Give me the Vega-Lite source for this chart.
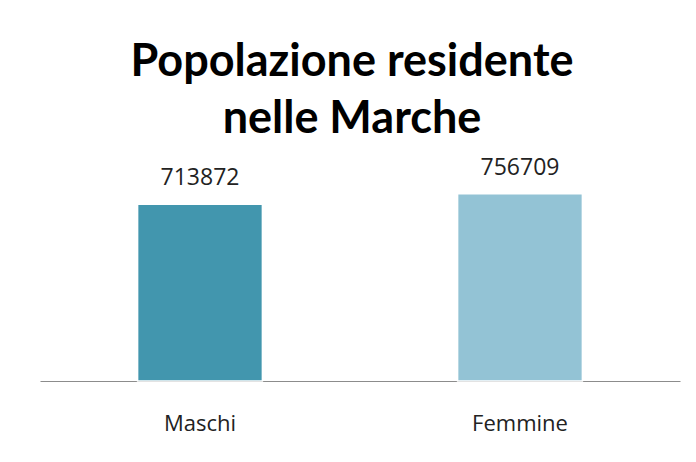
{
  "$schema": "https://vega.github.io/schema/vega-lite/v6.json",
  "autosize": "none",
  "width": 640,
  "height": 198,
  "padding": {"left": 40, "top": 183, "right": 16, "bottom": 81},
  "background": "white",
  "title": {
    "text": ["Popolazione residente", "nelle Marche"],
    "font": "Lato",
    "fontWeight": "bold",
    "fontSize": 45,
    "lineHeight": 57,
    "color": "black",
    "anchor": "middle",
    "dx": -8,
    "offset": 15
  },
  "data": {
    "values": [
      {"sesso": "Maschi", "popolazione": 713872},
      {"sesso": "Femmine", "popolazione": 756709}
    ]
  },
  "encoding": {
    "x": {
      "field": "sesso",
      "type": "nominal",
      "sort": null,
      "scale": {"paddingInner": 0, "paddingOuter": 0},
      "axis": {
        "title": null,
        "labelAngle": 0,
        "ticks": false,
        "labelFont": "Open Sans",
        "labelFontSize": 22,
        "labelColor": "#222",
        "labelPadding": 32,
        "domainColor": "#8c8c8c",
        "domainWidth": 1.2
      }
    },
    "y": {
      "field": "popolazione",
      "type": "quantitative",
      "scale": {"domain": [0, 800000]},
      "axis": null
    }
  },
  "layer": [
    {
      "mark": {"type": "bar", "width": {"band": 0.39}, "stroke": "white", "strokeWidth": 1.5},
      "encoding": {
        "color": {
          "field": "sesso",
          "type": "nominal",
          "scale": {"domain": ["Maschi", "Femmine"], "range": ["#4296AE", "#93C3D5"]},
          "legend": null
        }
      }
    },
    {
      "mark": {"type": "text", "dy": -19, "baseline": "alphabetic", "font": "Open Sans", "fontSize": 23, "color": "#222"},
      "encoding": {"text": {"field": "popolazione", "type": "quantitative", "format": "d"}}
    }
  ],
  "config": {"view": {"stroke": null}}
}
